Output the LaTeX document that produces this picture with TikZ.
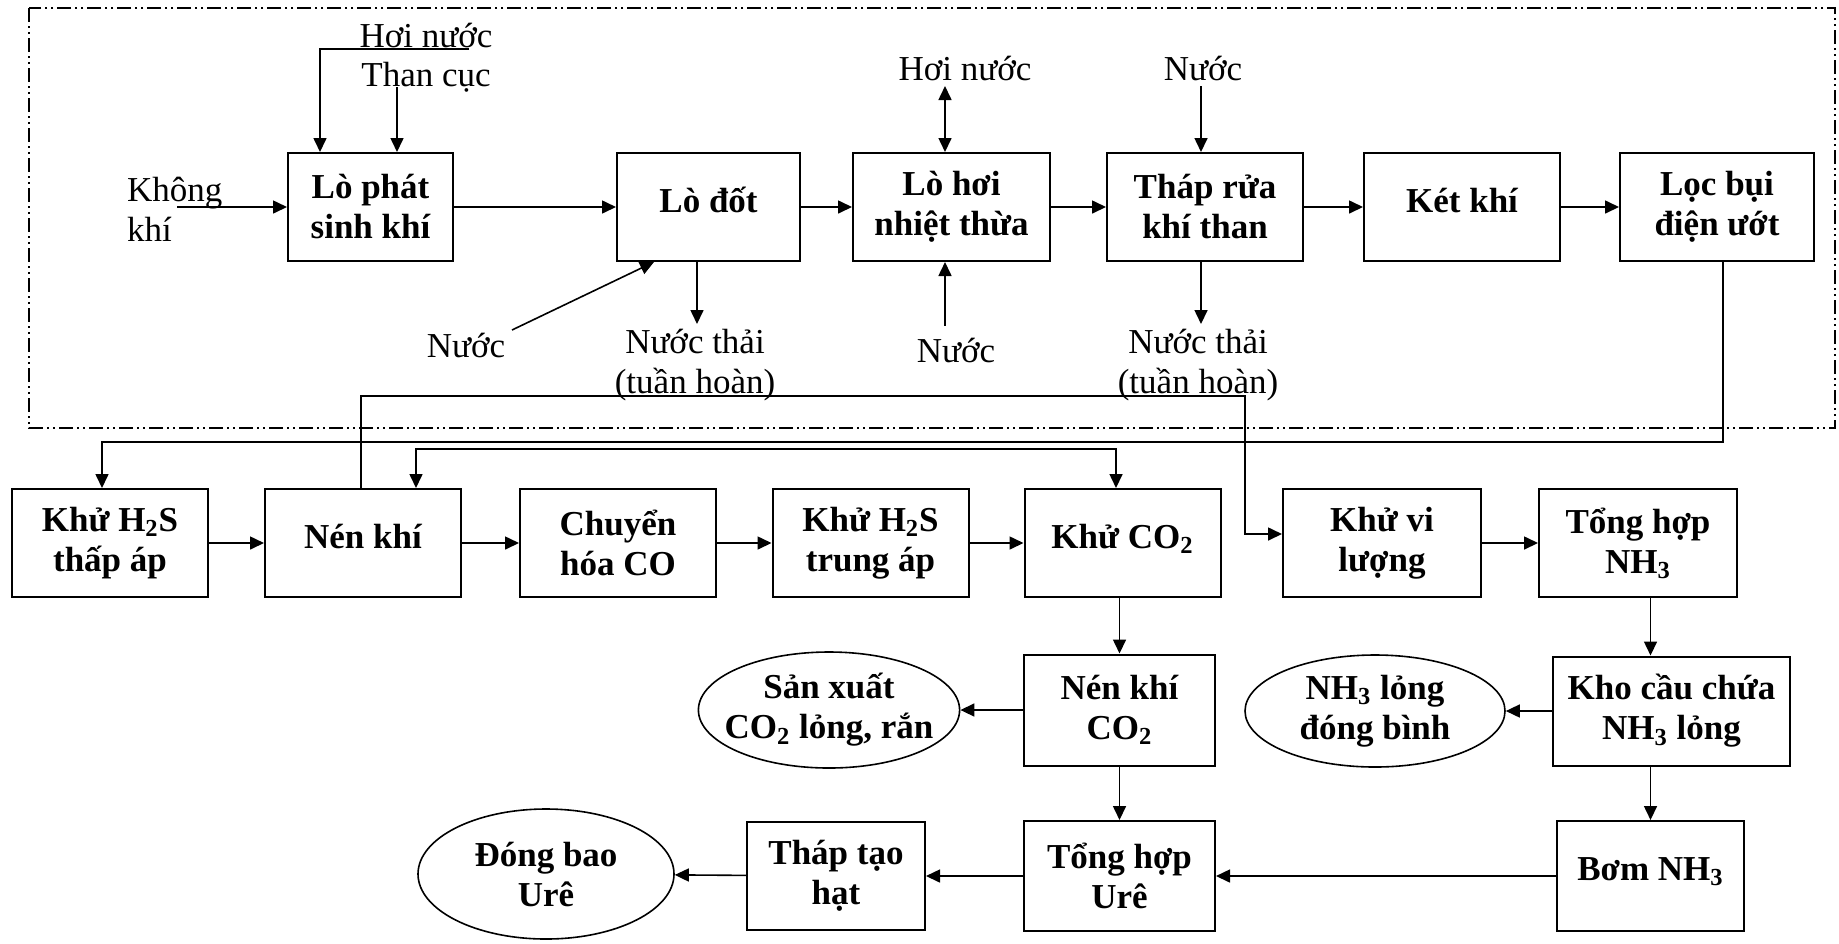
\documentclass[tikz,border=0pt]{standalone}
\usepackage{fontspec}
\setmainfont{Liberation Serif}
\usetikzlibrary{arrows.meta,shapes.geometric}

\begin{document}
\begin{tikzpicture}[x=0.5pt,y=-0.5pt,
    >={Triangle[length=7pt,width=6.5pt]},
    every node/.style={font=\fontsize{17.5}{20}\selectfont},
    box/.style={draw,line width=1pt,align=center,minimum width=98pt,minimum height=54pt,font=\fontsize{17.5}{20}\selectfont\bfseries},
    oneline/.style={text depth=7pt},
    oval/.style={draw,ellipse,line width=0.8pt,align=center,inner xsep=-6pt,inner ysep=0pt,font=\fontsize{17.5}{20}\selectfont\bfseries},
    flow/.style={line width=0.8pt}]
  \useasboundingbox (0,0) rectangle (1839,943);
  \draw[line width=0.8pt,dash pattern=on 7pt off 2pt on 1pt off 2pt on 1pt off 2pt] (29,8) rectangle (1835,428);

  \node[box,minimum width=82.5pt] (lps) at (370.5,207) {Lò phát\\sinh khí};
  \node[box,oneline,minimum width=91.5pt] (lodot) at (708.5,207) {Lò đốt};
  \node[box,minimum width=98.5pt] (lohoi) at (951.5,207) {Lò hơi\\nhiệt thừa};
  \node[box] (thap) at (1205,207) {Tháp rửa\\khí than};
  \node[box,oneline] (ketkhi) at (1462,207) {Két khí};
  \node[box,minimum width=97pt] (locbui) at (1717,207) {Lọc bụi\\điện ướt};

  \node[anchor=west,align=left] (khongkhi) at (120,209) {Không\\khí};
  \node (hoinuoc) at (426,35) {Hơi nước};
  \node (thancuc) at (426,77) {Than cục};
  \node (nuoc) at (466,345) {Nước};
  \node[align=center] (thai) at (695,365) {Nước thải\\(tuần hoàn)};
  \node (hoinuoc2) at (965,68) {Hơi nước};
  \node (nuoc2) at (956,350) {Nước};
  \node (nuoc3) at (1203,68) {Nước};
  \node[align=center] (thai2) at (1198,365) {Nước thải\\(tuần hoàn)};

  \node[box] (h2sthap) at (110,543) {Khử H\textsubscript{2}S\\thấp áp};
  \node[box,oneline] (nenkhi) at (363,543) {Nén khí};
  \node[box] (chuyen) at (618,543) {Chuyển\\hóa CO};
  \node[box] (h2strung) at (870.5,543) {Khử H\textsubscript{2}S\\trung áp};
  \node[box,oneline] (khuco2) at (1122.5,543) {Khử CO\textsubscript{2}};
  \node[box,minimum width=99pt] (khuvi) at (1382,543) {Khử vi\\lượng};
  \node[box,minimum width=99pt] (nh3) at (1638,543) {Tổng hợp\\NH\textsubscript{3}};

  \node[box,minimum width=95.5pt,minimum height=55.5pt] (nenco2) at (1119.5,710) {Nén khí\\CO\textsubscript{2}};
  \node[oval,minimum width=130pt,minimum height=58pt] (sanxuat) at (829,710) {Sản xuất\\CO\textsubscript{2} lỏng, rắn};
  \node[box,minimum width=118.5pt,minimum height=54.5pt] (kho) at (1671.5,711) {Kho cầu chứa\\NH\textsubscript{3} lỏng};
  \node[oval,minimum width=130pt,minimum height=56pt] (nh3long) at (1375,711) {NH\textsubscript{3} lỏng\\đóng bình};

  \node[box,minimum width=95.5pt,minimum height=55pt] (ure) at (1119.5,876) {Tổng hợp\\Urê};
  \node[box,minimum width=89pt,minimum height=54pt] (thaptao) at (836,876) {Tháp tạo\\hạt};
  \node[oval,minimum width=128pt,minimum height=65pt] (dongbao) at (546,874) {Đóng bao\\Urê};
  \node[box,oneline,minimum width=93.5pt,minimum height=55pt] (bom) at (1650.5,876) {Bơm NH\textsubscript{3}};

  \coordinate (kk) at (177,207);
  \coordinate (hn) at (469,49);
  \coordinate (tc) at (397,87);
  \coordinate (nc) at (512,330);
  \coordinate (up) at (1245,396);

  \draw[->,flow] (kk) -- (lps.west);
  \draw[->,flow] (hn) -| ([xshift=-25.25pt]lps.north);
  \draw[->,flow] (tc) -- (tc |- lps.north);
  \draw[->,flow] (lps) -- (lodot);
  \draw[->,flow] (lodot) -- (lohoi);
  \draw[->,flow] (lohoi) -- (thap);
  \draw[->,flow] (thap) -- (ketkhi);
  \draw[->,flow] (ketkhi) -- (locbui);
  \draw[->,flow] (nc) -- ([xshift=-27.25pt]lodot.south);
  \draw[->,flow] ([xshift=-5.75pt]lodot.south) -- ++(0,62);
  \draw[<->,flow] ([xshift=-3.25pt]lohoi.north) -- ++(0,-66);
  \draw[<-,flow] ([xshift=-3.25pt]lohoi.south) -- ++(0,64);
  \draw[<-,flow] ([xshift=-2pt]thap.north) -- ++(0,-66);
  \draw[->,flow] ([xshift=-2pt]thap.south) -- ++(0,62);

  \draw[->,flow] ([xshift=3pt]locbui.south) -- ++(0,180) -| ([xshift=-4pt]h2sthap.north);
  \draw[->,flow] ([xshift=-1pt]nenkhi.north) |- (up) |- ([yshift=4.5pt]khuvi.west);
  \draw[<->,flow] ([xshift=26.5pt]nenkhi.north) -- ++(0,-39) -| ([xshift=-3.25pt]khuco2.north);

  \draw[->,flow] (h2sthap) -- (nenkhi);
  \draw[->,flow] (nenkhi) -- (chuyen);
  \draw[->,flow] (chuyen) -- (h2strung);
  \draw[->,flow] (h2strung) -- (khuco2);
  \draw[->,flow] (khuvi) -- (nh3);

  \draw[->,flow] (khuco2.south -| nenco2) -- (nenco2);
  \draw[->,flow] (nenco2) -- (sanxuat);
  \draw[->,flow] (nenco2) -- (ure);
  \draw[->,flow] (nh3.south -| bom) -- (kho.north -| bom);
  \draw[->,flow] (kho) -- (nh3long);
  \draw[->,flow] (kho.south -| bom) -- (bom);
  \draw[->,flow] (bom) -- (ure);
  \draw[->,flow] (ure) -- (thaptao);
  \draw[->,flow] (thaptao) -- (dongbao);
\end{tikzpicture}
\end{document}
